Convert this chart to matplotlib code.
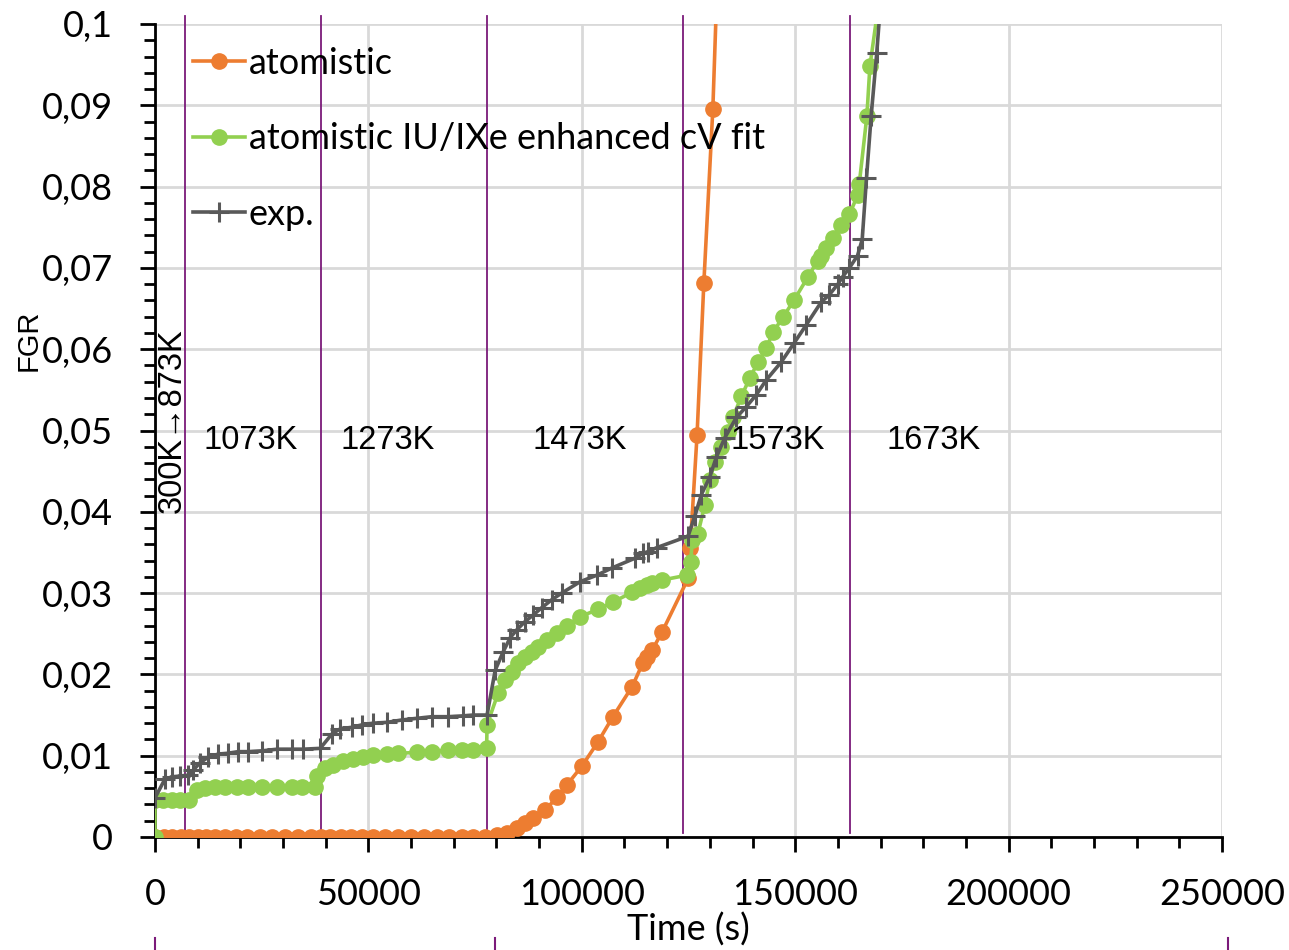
import matplotlib
matplotlib.use("Agg")
import matplotlib.pyplot as plt
from matplotlib.ticker import MultipleLocator
from matplotlib.lines import Line2D

# atomistic model (orange)
atom_t = [0, 2000, 4000, 6000, 8000, 10000, 12000, 14000, 16500, 19000, 21500, 24500,
          27500, 30500, 33500, 36500, 39000, 41000, 43500, 46000, 48500, 51000,
          54000, 57000, 60000, 63000, 66000, 69000, 72000, 74500, 77300,
          80100, 82500, 84800, 86700, 88600, 91400, 94200, 96500, 100000, 103800,
          107300, 111800, 114300, 115300, 116500, 118800, 124900, 125400, 127000,
          128600, 130700, 133000]
atom_fgr = [0, 0, 0, 0, 0, 0, 0, 0, 0, 0, 0, 0,
            0, 0, 0, 0, 0, 0, 0, 0, 0, 0,
            0, 0, 0, 0, 0, 0, 0, 0, 0,
            0.0003, 0.0005, 0.0011, 0.0017, 0.0023, 0.0033, 0.0049, 0.0064, 0.0087, 0.0117,
            0.0148, 0.0185, 0.0214, 0.0221, 0.0230, 0.0252, 0.0318, 0.0355, 0.0494,
            0.0682, 0.0895, 0.125]

# atomistic IU/IXe enhanced cV fit (green)
fit_t = [0, 0, 1900, 4000, 5900, 8000, 9800, 11700, 14000, 16400, 19200, 21800, 25100,
         28600, 32100, 34400, 37500, 38000, 39800, 41700, 44000, 46400, 48700, 51100,
         54300, 57000, 61400, 64900, 68700, 71900, 74500, 77700, 77800,
         80400, 82000, 83600, 85100, 86700, 88300, 89700, 91800, 94200, 96500, 99600,
         103800, 107300, 111800, 113600, 115200, 116400, 118800, 124600, 125500, 125900,
         127200, 128800, 130000, 131100, 132700, 134300, 135400, 137400, 139300, 141300,
         143200, 144800, 147100, 149800, 153000, 155300, 156100, 157200, 158800, 160800,
         162700, 164700, 165000, 166800, 167500, 171000]
fit_fgr = [0, 0.0045, 0.0045, 0.0045, 0.0045, 0.0046, 0.0058, 0.0060, 0.0061, 0.0061, 0.0061,
           0.0061, 0.0061, 0.0061, 0.0061, 0.0061, 0.0061, 0.0075, 0.0085, 0.0089, 0.0093,
           0.0096, 0.0098, 0.0101, 0.0102, 0.0103, 0.0104, 0.0105, 0.0107, 0.0107, 0.0107,
           0.0109, 0.0138,
           0.0177, 0.0193, 0.0203, 0.0214, 0.0221, 0.0228, 0.0234, 0.0242, 0.0251, 0.0260,
           0.0271, 0.0280, 0.0289, 0.0301, 0.0306, 0.0310, 0.0312, 0.0316, 0.0322, 0.0338,
           0.0365, 0.0373, 0.0408, 0.0439, 0.0461, 0.0480, 0.0498, 0.0516, 0.0542, 0.0564,
           0.0584, 0.0601, 0.0621, 0.0639, 0.0661, 0.0689, 0.0709, 0.0715, 0.0724, 0.0737,
           0.0753, 0.0766, 0.0790, 0.0803, 0.0887, 0.0948, 0.108]

# experiment (grey)
exp_t = [0, 2300, 4000, 5900, 7700, 8900, 10500, 12400, 14800, 17100, 19500, 21800,
         25100, 28600, 32100, 34700, 38700, 41500, 43400, 46200, 48500, 51100, 54300,
         57900, 61400, 64900, 68700, 72200, 74500, 77800, 79700, 81600, 83200, 84800,
         86700, 88600, 90600, 93000, 95300, 99600, 103500, 107100, 112500, 114400,
         115500, 117600, 124900, 126500, 128000, 130000, 131500, 133500, 136200, 138500,
         140900, 143200, 146700, 149800, 152600, 156100, 158000, 160000, 161100, 162700,
         164600, 165700, 166700, 167800, 169100, 170500]
exp_fgr = [0.0048, 0.0071, 0.0074, 0.0075, 0.0076, 0.0082, 0.0091, 0.0098, 0.0102, 0.0103,
           0.0105, 0.0105, 0.0106, 0.0108, 0.0108, 0.0108, 0.0109, 0.0127, 0.0133, 0.0135,
           0.0138, 0.0140, 0.0141, 0.0144, 0.0146, 0.0148, 0.0148, 0.0149, 0.0150, 0.0150,
           0.0205, 0.0228, 0.0245, 0.0255, 0.0265, 0.0273, 0.0282, 0.0292, 0.0300, 0.0314,
           0.0322, 0.0331, 0.0343, 0.0349, 0.0351, 0.0356, 0.0370, 0.0395, 0.0421, 0.0443,
           0.0467, 0.0491, 0.0516, 0.0529, 0.0544, 0.0562, 0.0584, 0.0608, 0.0630, 0.0658,
           0.0667, 0.0680, 0.0689, 0.0700, 0.0715, 0.0735, 0.0810, 0.0887, 0.0964, 0.106]

# temperature steps
step_t = [7000, 38900, 77800, 123700, 162800]
temp_labels = ["1073K", "1273K", "1473K", "1573K", "1673K"]
temp_x = [22300, 54600, 99600, 146000, 182500]

ytick_vals = [0, 0.01, 0.02, 0.03, 0.04, 0.05, 0.06, 0.07, 0.08, 0.09, 0.1]
ytick_labels = ["0", "0,01", "0,02", "0,03", "0,04", "0,05", "0,06", "0,07", "0,08", "0,09", "0,1"]
xtick_vals = [0, 50000, 100000, 150000, 200000, 250000]

ORANGE = "#ED7D31"
GREEN = "#92D050"
GREY = "#595959"
PURPLE = "#7B1A7A"
tickfont = "Lato"

fig = plt.figure(figsize=(12.89, 9.5), dpi=100)
ax = fig.add_axes([155 / 1289, 113 / 950, 1067 / 1289, 813 / 950])

ax.plot(atom_t, atom_fgr, color=ORANGE, lw=2.6, marker="o", ms=11, label="atomistic", zorder=3)
ax.plot(fit_t, fit_fgr, color=GREEN, lw=2.6, marker="o", ms=11,
        label="atomistic IU/IXe enhanced cV fit", zorder=3)
ax.plot(exp_t, exp_fgr, color=GREY, lw=2.6, marker="+", ms=14, mew=2.2,
        label="exp.", zorder=4)

for t in step_t:
    ax.plot([t, t], [0.0005, 0.101], color=PURPLE, lw=1.3, clip_on=False, zorder=2)

for lab, x in zip(temp_labels, temp_x):
    ax.text(x, 0.0488, lab, ha="center", va="center", fontsize=23.5,
            family="Liberation Sans", zorder=5)
ax.text(4000, 0.0512, "300K\u2192873K", rotation=90, ha="center", va="center",
        fontsize=23.5, family=["Liberation Sans", "DejaVu Sans"], zorder=5)

ax.set_xlim(0, 250000)
ax.set_ylim(0, 0.1)
ax.set_xticks(xtick_vals)
ax.set_xticklabels([str(v) for v in xtick_vals], family=tickfont, fontsize=26)
ax.set_yticks(ytick_vals)
ax.set_yticklabels(ytick_labels, family=tickfont, fontsize=26)
ax.xaxis.set_minor_locator(MultipleLocator(10000))
ax.yaxis.set_minor_locator(MultipleLocator(0.002))
ax.tick_params(which="major", direction="out", length=11, width=2)
ax.tick_params(which="minor", direction="out", length=8, width=2)
ax.tick_params(axis="x", which="major", pad=18.5)
ax.tick_params(axis="y", which="major", pad=19.5)
ax.grid(True, which="major", color="#D9D9D9", lw=2)
ax.set_axisbelow(True)
for s in ["top", "right"]:
    ax.spines[s].set_visible(False)
for s in ["left", "bottom"]:
    ax.spines[s].set_linewidth(2)

ax.set_xlabel("Time (s)", family=tickfont, fontsize=26)
ax.xaxis.set_label_coords(0.5, -0.093)
ax.set_ylabel("FGR", family="Liberation Sans", fontsize=21)
ax.yaxis.set_label_coords(-0.105, 0.611)

ax.legend(loc="upper left", bbox_to_anchor=(0.022, 0.99), frameon=False,
          prop={"family": tickfont, "size": 26}, handlelength=1.45,
          handletextpad=0.1, labelspacing=1.18, borderaxespad=0)

# small purple marks below the axis
for px in [155, 495, 1228]:
    fig.add_artist(Line2D([px / 1289, px / 1289], [0, 12 / 950], color=PURPLE, lw=1.5))

fig.savefig("out.png", dpi=100)
